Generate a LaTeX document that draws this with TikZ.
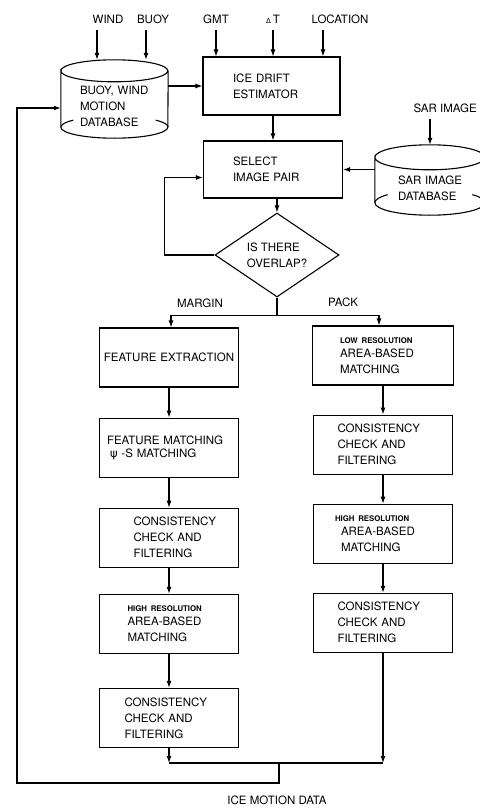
\documentclass[tikz,border=0pt]{standalone}
\usepackage{fontspec}
\setmainfont{TeX Gyre Heros}
\newfontfamily\grkfont{DejaVu Sans}
\usepackage{tikz}
\usetikzlibrary{
    shapes.geometric, arrows.meta, positioning, calc
}
\newcommand{\flowfont}{\fontsize{11.5}{16}\selectfont}
\newcommand{\smallres}{\fontsize{7.8}{9}\selectfont\bfseries}
% cylinder round a database node: name, x radius, y radius
\newcommand{\dbcyl}[3]{%
  \draw[line] ([yshift=-#3]#1.north west)
      arc[start angle=180, end angle=-180, x radius=#2, y radius=#3]
    -- ([yshift=#3]#1.south west)
      arc[start angle=180, end angle=360, x radius=#2, y radius=#3]
    -- ([yshift=-#3]#1.north east);
  \draw[line] ([yshift=#3]#1.south west)
      arc[start angle=180, end angle=140, x radius=#2, y radius=#3];
  \draw[line] ([yshift=#3]#1.south east)
      arc[start angle=0, end angle=40, x radius=#2, y radius=#3];
}
\tikzset{
  line/.style={line width=1.1pt},
  box/.style={rectangle, draw, line, minimum width=139pt,
              minimum height=59pt, align=left, inner sep=0pt,
              font=\flowfont},
  dbase/.style={rectangle, inner sep=0pt},
  dbtxt/.style={align=left, inner sep=0pt, font=\flowfont},
  arr/.style={-{Latex[length=7pt,width=5pt]}, line},
}

\begin{document}
\begin{tikzpicture}[x=1pt, y=-1pt,
  decision/.style={diamond, draw, line, aspect=1.5, minimum width=124pt,
                   minimum height=84pt, align=left, inner sep=2pt,
                   font=\flowfont},
  lbl/.style={font=\flowfont, text height=8.3pt, text depth=0pt,
              inner xsep=1pt, inner ysep=7pt},
]
  \useasboundingbox (0,0) rectangle (479,808);

  % inputs
  \node[lbl] (wind) at (108,19) {WIND};
  \node[lbl] (buoy) at (153,19) {BUOY};
  \node[lbl] (gmt)  at (216,19) {GMT};
  \node[lbl] (dt)   at (273,19) {{\grkfont\fontsize{7}{8}\selectfont Δ}\,T};
  \node[lbl] (loc)  at (340,19) {LOCATION};
  \node[lbl, anchor=east] (sarin) at (478,108) {SAR IMAGE};

  % databases and estimator
  \node[dbase, minimum width=107pt, minimum height=78pt,
    label={[dbtxt, text width=69pt, yshift=-7pt]center:{BUOY, WIND\\MOTION\\DATABASE}}]
    (bdb) at (114.5,99) {};
  \dbcyl{bdb}{53.5pt}{11pt}

  \node[dbase, minimum width=110pt, minimum height=70pt,
    label={[dbtxt, text width=64pt, yshift=-8.5pt]center:{SAR IMAGE\\DATABASE}}]
    (sdb) at (430,180) {};
  \dbcyl{sdb}{55pt}{12.5pt}

  \node[box, text width=77pt, minimum width=137pt, minimum height=58pt]
    (ice) at (271.5,86) {ICE DRIFT\\ESTIMATOR};
  \node[box, text width=80pt, minimum height=57pt]
    (sel) at (273,169.5) {SELECT\\IMAGE PAIR};
  \node[decision] (ovl) at (277,255) {IS THERE\\OVERLAP?};

  % margin branch
  \node[box, text width=134pt, align=center] (fe) at (169,357.5) {FEATURE EXTRACTION};
  \node[box, text width=124pt, below=30pt of fe] (fm)
    {FEATURE MATCHING\\[-3pt]\hspace{3pt}{\grkfont ψ} -S MATCHING};
  \node[box, text width=71pt, below=30pt of fm] (cc1)
    {CONSISTENCY\\CHECK AND\\FILTERING};
  \node[box, text width=83pt, below=26pt of cc1] (hr1)
    {{\smallres HIGH RESOLUTION}\\[-2.5pt]AREA-BASED\\MATCHING};
  \node[box, text width=89pt, below=34pt of hr1] (cc2)
    {CONSISTENCY\\CHECK AND\\FILTERING};

  % pack branch
  \node[box, text width=86pt, minimum width=141pt] (lr) at (383,355.5)
    {{\smallres LOW RESOLUTION}\\[-2.5pt]AREA-BASED\\MATCHING};
  \node[box, text width=91pt, below=29pt of lr] (ccr1)
    {CONSISTENCY\\CHECK AND\\FILTERING};
  \node[box, text width=96pt, below=29pt of ccr1] (hrr)
    {{\smallres HIGH RESOLUTION}\\[-2.5pt]\hspace{6pt}AREA-BASED\\\hspace{6pt}MATCHING};
  \node[box, text width=91pt, below=29pt of hrr] (ccr2)
    {CONSISTENCY\\CHECK AND\\FILTERING};

  \node[font=\flowfont] (mlbl) at (200,303) {MARGIN};
  \node[font=\flowfont] (plbl) at (343,302) {PACK};
  \node[font=\flowfont] (out) at (277,800) {ICE MOTION DATA};

  \coordinate (windin) at ([xshift=-11pt]wind.south);
  \coordinate (buoyin) at ([xshift=-7pt]buoy.south);
  \coordinate (locin)  at ([xshift=-17pt]loc.south);
  \coordinate (merge)  at (279,763);
  \coordinate (fbturn) at (17,783);

  \draw[arr] (windin) -- (windin |- bdb.north);
  \draw[arr] (buoyin) -- (buoyin |- bdb.north);
  \draw[arr] (gmt.south) -- (gmt.south |- ice.north);
  \draw[arr] (dt.south) -- (dt.south |- ice.north);
  \draw[arr] (locin) -- (locin |- ice.north);
  \draw[arr] (sdb.north |- sarin.south) -- (sdb.north);

  \draw[arr] (bdb.east |- ice.west) -- (ice.west);
  \draw[arr] (sel.north |- ice.south) -- (sel.north);
  \draw[arr] (sdb.west |- sel.east) -- (sel.east);
  \draw[arr] (ovl.north |- sel.south) -- (ovl.north);
  \draw[arr] (ovl.west) -- ++(-50,0) |- ([yshift=-8pt]sel.west);

  \draw[line] (ovl.south) -- ++(0,18) coordinate (split);
  \draw[arr] (split) -| ([xshift=2pt]fe.north);
  \draw[arr] (split) -| ([xshift=-4pt]lr.north);

  \foreach \a/\b in {fe/fm, fm/cc1, cc1/hr1, hr1/cc2, lr/ccr1, ccr1/hrr, hrr/ccr2}
    \draw[arr] (\b.north |- \a.south) -- (\b.north);

  \draw[arr] (cc2.south) -- (cc2.south |- merge);
  \draw[arr] (ccr2.south) -- (ccr2.south |- merge);
  \draw[line] (cc2.south |- merge) -- (ccr2.south |- merge);
  \draw[arr] (merge) |- (fbturn) |- ([yshift=-9pt]bdb.west);

\end{tikzpicture}
\end{document}
